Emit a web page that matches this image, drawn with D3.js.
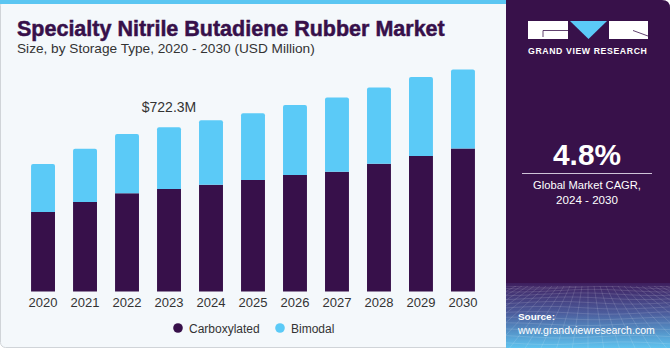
<!DOCTYPE html>
<html>
<head>
<meta charset="utf-8">
<script src="https://cdn.jsdelivr.net/npm/d3@7"></script>
<style>
  html, body { margin: 0; padding: 0; background: #ffffff; }
  svg { display: block; font-family: "Liberation Sans", Arial, sans-serif; }
</style>
</head>
<body>
<svg id="chart" width="670" height="350"></svg>
<script>
// Market size by storage type, USD million
const years = ["2020", "2021", "2022", "2023", "2024", "2025", "2026", "2027", "2028", "2029", "2030"];
const carboxylated = [350, 394, 432, 451, 470, 491, 513, 527, 562, 596, 629];
const bimodal = [211, 234, 261, 271.3, 283, 293, 307, 327, 335, 348, 348];
const seriesNames = ["Carboxylated", "Bimodal"];
const highlightYear = "2023";
const highlightLabel = "$722.3M";
const cagrValue = "4.8%";
const cagrLines = ["Global Market CAGR,", "2024 - 2030"];

const colors = { Carboxylated: "#37104a", Bimodal: "#5bcaf7" };

const svg = d3.select("#chart");
const defs = svg.append("defs");

// ---- left card ----
svg.append("rect")
  .attr("x", 0.5).attr("y", 0.5).attr("width", 512).attr("height", 347)
  .attr("rx", 5).attr("fill", "#f4f8fb").attr("stroke", "#d0d4d8");
svg.append("rect")
  .attr("x", 0).attr("y", 0).attr("width", 510).attr("height", 4)
  .attr("fill", "#5bc6f2");

// scale a text's font size so that it spans the given width
function fitText(sel, target) {
  const w = sel.node().getComputedTextLength();
  const fs = parseFloat(sel.attr("font-size"));
  sel.attr("font-size", fs * target / w);
  return sel;
}

// ---- title ----
const title = svg.append("text")
  .attr("x", 17).attr("y", 36)
  .attr("font-size", 21).attr("font-weight", 700)
  .attr("fill", "#37104a")
  .attr("stroke", "#37104a").attr("stroke-width", 0.5)
  .text("Specialty Nitrile Butadiene Rubber Market");
fitText(title, 428);
const subtitle = svg.append("text")
  .attr("x", 17).attr("y", 53)
  .attr("font-size", 13).attr("fill", "#333333")
  .text("Size, by Storage Type, 2020 - 2030 (USD Million)");
fitText(subtitle, 298);

// ---- bars ----
const x = d3.scaleBand().domain(years).range([13, 493]).padding(0.43);
const y = d3.scaleLinear().domain([0, 1000]).range([291.5, 64.2]);

const rows = years.map((yr, i) => ({ year: yr, Carboxylated: carboxylated[i], Bimodal: bimodal[i] }));
const stacked = d3.stack().keys(seriesNames)(rows);

const r = 2;
function roundTopPath(x0, y0, w, h) {
  return `M${x0},${y0 + h}V${y0 + r}Q${x0},${y0} ${x0 + r},${y0}H${x0 + w - r}Q${x0 + w},${y0} ${x0 + w},${y0 + r}V${y0 + h}Z`;
}

const g = svg.append("g");
stacked.forEach(layer => {
  g.selectAll(null)
    .data(layer)
    .join("path")
    .attr("fill", colors[layer.key])
    .attr("d", d => {
      const x0 = x(d.data.year), w = x.bandwidth();
      const yTop = y(d[1]), h = y(d[0]) - y(d[1]);
      return layer.key === "Bimodal" ? roundTopPath(x0, yTop, w, h) : `M${x0},${yTop}h${w}v${h}h${-w}Z`;
    });
});

// value label on highlighted year
const hi = years.indexOf(highlightYear);
svg.append("text")
  .attr("x", x(highlightYear) + x.bandwidth() / 2)
  .attr("y", y(carboxylated[hi] + bimodal[hi]) - 15)
  .attr("text-anchor", "middle")
  .attr("font-size", 14).attr("fill", "#333333")
  .text(highlightLabel);

// ---- x axis ----
const xAxis = svg.append("g")
  .attr("transform", "translate(0,291.5)")
  .call(d3.axisBottom(x).tickSize(0).tickPadding(6));
xAxis.select(".domain").remove();
xAxis.selectAll("text")
  .attr("font-size", 13).attr("fill", "#333333")
  .attr("font-family", "Liberation Sans, Arial, sans-serif");

// ---- legend ----
const legend = svg.append("g").attr("transform", "translate(178,328)");
const legendX = [0, 102];
seriesNames.forEach((name, i) => {
  const lg = legend.append("g").attr("transform", `translate(${legendX[i]},0)`);
  lg.append("circle").attr("r", 4.8).attr("fill", colors[name]);
  lg.append("text").attr("x", 11).attr("y", 4.5)
    .attr("font-size", 12).attr("fill", "#333333").text(name);
});

// ---- right panel ----
const px = 506;
svg.append("path")
  .attr("d", `M${px},0H${670 - 8}Q670,0 670,8V348H${px}Z`)
  .attr("fill", "#38114a");

const grad = defs.append("linearGradient").attr("id", "foot").attr("x1", 0).attr("y1", 0).attr("x2", 0).attr("y2", 1);
grad.append("stop").attr("offset", "0%").attr("stop-color", "#3f2060");
grad.append("stop").attr("offset", "45%").attr("stop-color", "#4b5a9a");
grad.append("stop").attr("offset", "100%").attr("stop-color", "#5ec3ef");
const fade = defs.append("linearGradient").attr("id", "fade").attr("x1", 0).attr("y1", 0).attr("x2", 0).attr("y2", 1);
fade.append("stop").attr("offset", "0%").attr("stop-color", "#38114a");
fade.append("stop").attr("offset", "100%").attr("stop-color", "#38114a").attr("stop-opacity", 0);

svg.append("rect").attr("x", px).attr("y", 283).attr("width", 164).attr("height", 65).attr("fill", "url(#foot)");
svg.append("rect").attr("x", px).attr("y", 262).attr("width", 164).attr("height", 24).attr("fill", "url(#fade)");

// wireframe mesh in the panel footer
const mesh = svg.append("g").attr("stroke", "#ffffff").attr("stroke-opacity", 0.22).attr("stroke-width", 0.6).attr("fill", "none");
const clip = defs.append("clipPath").attr("id", "footClip");
clip.append("rect").attr("x", px).attr("y", 286).attr("width", 164).attr("height", 62);
mesh.attr("clip-path", "url(#footClip)");
const rowsY = d3.range(0, 14).map(k => 286 + Math.pow(k / 13, 1.4) * 64);
rowsY.forEach((yy, k) => {
  mesh.append("path").attr("d", d3.line().curve(d3.curveBasis)(
    d3.range(0, 9).map(j => [px + j * 21, yy + Math.sin(j * 0.9 + k * 0.5) * 1.5])
  ));
});
d3.range(-12, 22).forEach(j => {
  const xTop = 588 + j * 6, xBot = 588 + j * 16;
  mesh.append("line").attr("x1", xTop).attr("y1", 286).attr("x2", xBot).attr("y2", 350);
});

// logo
const logo = svg.append("g");
logo.append("rect").attr("x", 528).attr("y", 21).attr("width", 40).attr("height", 18).attr("fill", "#ffffff");
logo.append("path").attr("d", "M543,37V30.5H568").attr("stroke", "#38114a").attr("stroke-width", 0.8).attr("fill", "none");
logo.append("path").attr("d", "M570,21H607L588.5,39Z").attr("fill", "#5bcaf7");
logo.append("rect").attr("x", 609).attr("y", 21).attr("width", 39).attr("height", 18).attr("fill", "#ffffff");
logo.append("path").attr("d", "M633,30.5L648,36").attr("stroke", "#38114a").attr("stroke-width", 0.8).attr("fill", "none");
const brand = logo.append("text").attr("x", 528).attr("y", 53.5)
  .attr("font-size", 8.5).attr("font-weight", 700).attr("fill", "#ffffff")
  .attr("letter-spacing", 0.6)
  .text("GRAND VIEW RESEARCH");
fitText(brand, 120);

// CAGR block
const cagr = svg.append("text").attr("x", 587).attr("y", 165).attr("text-anchor", "middle")
  .attr("font-size", 28).attr("font-weight", 700).attr("fill", "#ffffff").text(cagrValue);
fitText(cagr, 68);
svg.append("line").attr("x1", 522).attr("x2", 652).attr("y1", 173.5).attr("y2", 173.5)
  .attr("stroke", "#cfc4d8").attr("stroke-width", 1);
cagrLines.forEach((t, i) => {
  const ct = svg.append("text").attr("x", 587).attr("y", 189 + i * 15).attr("text-anchor", "middle")
    .attr("font-size", 12).attr("fill", "#ffffff").text(t);
  if (i === 0) fitText(ct, 108);
  else ct.attr("font-size", 11.6);
});

// source
const src = svg.append("text").attr("x", 518).attr("y", 320)
  .attr("font-size", 12).attr("font-weight", 700).attr("fill", "#ffffff").text("Source:");
fitText(src, 37);
const url = svg.append("text").attr("x", 518).attr("y", 334)
  .attr("font-size", 12).attr("fill", "#ffffff").text("www.grandviewresearch.com");
fitText(url, 137);
</script>
</body>
</html>
